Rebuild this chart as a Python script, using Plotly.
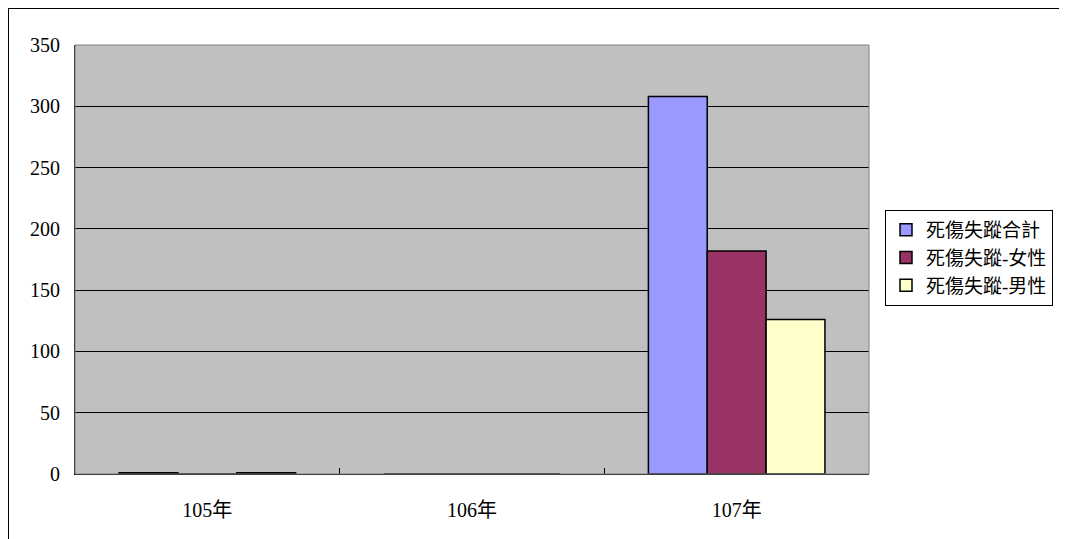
import plotly.graph_objects as go

years = ["105年", "106年", "107年"]
total = [1, 0, 308]
female = [0, 0, 182]
male = [1, 0, 126]
series_names = ["死傷失蹤合計", "死傷失蹤-女性", "死傷失蹤-男性"]
colors = ["#9999FF", "#993366", "#FFFFCC"]

font_family = "Liberation Serif, Noto Sans CJK TC, serif"

fig = go.Figure()
for name, vals, col in zip(series_names, [total, female, male], colors):
    fig.add_trace(go.Bar(
        x=years, y=vals, name=name,
        marker=dict(color=col, line=dict(color="black", width=1.5)),
    ))

# page body has an 8px margin, so the figure starts at (8, 8) in the window
OFF = 8
W, H = 1067 - OFF, 539 - OFF
L, T = 75 - OFF, 45 - OFF
R, B = W - (869 - OFF), H - (474 - OFF)
pw, ph = W - L - R, H - T - B

fig.update_layout(
    width=W, height=H,
    margin=dict(l=L, r=R, t=T, b=B, autoexpand=False),
    paper_bgcolor="white",
    plot_bgcolor="#C0C0C0",
    barmode="group",
    bargap=0.333,
    bargroupgap=0,
    font=dict(family=font_family, size=20, color="black"),
    showlegend=True,
    legend=dict(
        x=(885 - 75) / pw, y=1 - (210 - 45) / ph,
        xanchor="left", yanchor="top",
        bordercolor="black", borderwidth=1,
        bgcolor="white",
        font=dict(size=19),
        tracegroupgap=0,
    ),
    xaxis=dict(
        type="category",
        showline=True, linecolor="black", linewidth=1,
        ticks="inside", tickson="boundaries", ticklen=6, tickcolor="black",
        showgrid=False,
        tickfont=dict(size=20),
        ticklabelstandoff=18,
    ),
    yaxis=dict(
        range=[0, 350], dtick=50,
        showline=True, linecolor="black", linewidth=1,
        showgrid=True, gridcolor="black", gridwidth=1,
        ticks="", tickfont=dict(size=20),
        ticklabelstandoff=10,
        zeroline=False,
    ),
    shapes=[
        # plot area border (top/right)
        dict(type="rect", xref="paper", yref="paper", x0=0, x1=1, y0=0, y1=1,
             line=dict(color="#808080", width=1), layer="above"),
        # outer chart frame
        dict(type="rect", xref="paper", yref="paper",
             x0=-L / pw, x1=(W + 20 - L) / pw,
             y0=-(B + 20) / ph, y1=1 + T / ph,
             line=dict(color="black", width=2), layer="above"),
    ],
)

fig.write_html("out.html")
